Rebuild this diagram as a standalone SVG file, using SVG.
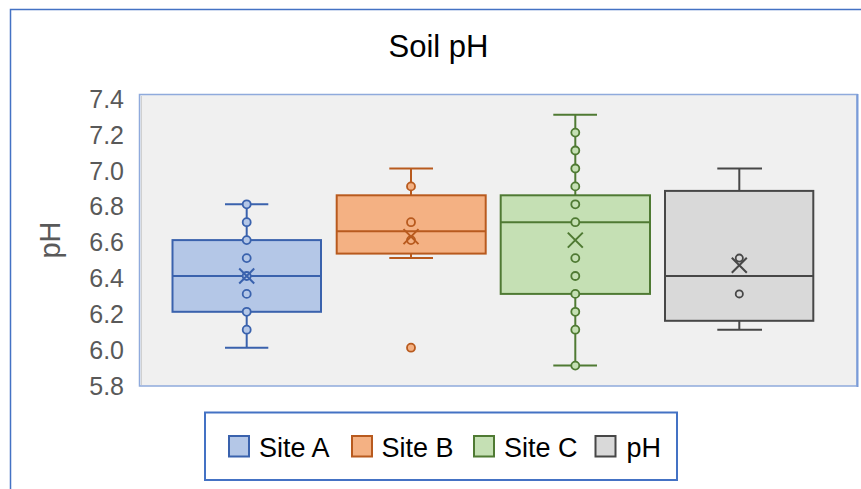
<svg xmlns="http://www.w3.org/2000/svg" width="861" height="489" viewBox="0 0 861 489">
<style>
  text { font-family: "Liberation Sans", Arial, sans-serif; }
  .tick { font-size: 25px; fill: #595959; text-anchor: end; }
  .leg { font-size: 27px; fill: #000; }
  .a { stroke: #3a62ad; }
  .af { fill: #b4c7e7; }
  .b { stroke: #b85a1e; }
  .bf { fill: #f4b183; }
  .c { stroke: #4f7a33; }
  .cf { fill: #c5e0b4; }
  .d { stroke: #474747; }
  .df { fill: #d9d9d9; }
  .ln { stroke-width: 2; fill: none; }
  .pt { stroke-width: 1.8; }
</style>
<rect x="0" y="0" width="861" height="489" fill="#ffffff"/>
<!-- outer chart frame -->
<path d="M10.5 489 V9.5 H861" fill="none" stroke="#4472c4" stroke-width="1.5"/>
<!-- title -->
<text x="438.5" y="57" font-size="31" text-anchor="middle" fill="#000">Soil pH</text>
<!-- plot area -->
<rect x="139.5" y="94.5" width="717.5" height="291.5" fill="#f0f0f0" stroke="#8faadc" stroke-width="1.5"/>
<line x1="141.5" y1="96" x2="141.5" y2="385" stroke="#d0d0d0" stroke-width="1"/>
<line x1="857.5" y1="94" x2="857.5" y2="387" stroke="#7a9bd8" stroke-width="2"/>
<!-- y axis -->
<g id="yaxis">
  <text class="tick" x="124" y="108">7.4</text>
  <text class="tick" x="124" y="143.6">7.2</text>
  <text class="tick" x="124" y="179.5">7.0</text>
  <text class="tick" x="124" y="215.3">6.8</text>
  <text class="tick" x="124" y="251.1">6.6</text>
  <text class="tick" x="124" y="287">6.4</text>
  <text class="tick" x="124" y="322.8">6.2</text>
  <text class="tick" x="124" y="358.7">6.0</text>
  <text class="tick" x="124" y="394.5">5.8</text>
  <text x="60" y="240" font-size="29" fill="#595959" text-anchor="middle" transform="rotate(-90 60 240)">pH</text>
</g>
<!-- Site A -->
<g id="siteA">
  <rect class="a af ln" x="172.5" y="240.1" width="148.5" height="71.7" style="fill:#b4c7e7"/>
  <line class="a ln" x1="172.5" y1="276" x2="321" y2="276"/>
  <line class="a ln" x1="246.7" y1="204.3" x2="246.7" y2="240.1"/>
  <line class="a ln" x1="246.7" y1="311.8" x2="246.7" y2="347.7"/>
  <line class="a ln" x1="225" y1="204.3" x2="268.3" y2="204.3"/>
  <line class="a ln" x1="225" y1="347.7" x2="268.3" y2="347.7"/>
  <g class="a af pt">
    <circle cx="246.7" cy="204.3" r="4"/>
    <circle cx="246.7" cy="222.2" r="4"/>
    <circle cx="246.7" cy="240.1" r="4"/>
    <circle cx="246.7" cy="258.1" r="4"/>
    <circle cx="246.7" cy="276" r="4"/>
    <circle cx="246.7" cy="293.9" r="4"/>
    <circle cx="246.7" cy="311.8" r="4"/>
    <circle cx="246.7" cy="329.7" r="4"/>
  </g>
  <path class="a ln" d="M239.2 268.5 L254.2 283.5 M239.2 283.5 L254.2 268.5"/>
</g>
<!-- Site B -->
<g id="siteB">
  <rect class="b ln" x="336.7" y="195.3" width="149" height="58.3" style="fill:#f4b183"/>
  <line class="b ln" x1="336.7" y1="231.2" x2="485.7" y2="231.2"/>
  <line class="b ln" x1="411" y1="168.5" x2="411" y2="195.3"/>
  <line class="b ln" x1="411" y1="253.6" x2="411" y2="258.1"/>
  <line class="b ln" x1="389.3" y1="168.5" x2="433" y2="168.5"/>
  <line class="b ln" x1="389.3" y1="258.1" x2="433" y2="258.1"/>
  <g class="b bf pt">
    <circle cx="411" cy="186.4" r="4"/>
    <circle cx="411" cy="222.2" r="4"/>
    <circle cx="411" cy="240.1" r="4"/>
    <circle cx="411" cy="347.7" r="4"/>
  </g>
  <path class="b ln" d="M403.5 229.1 L418.5 244.1 M403.5 244.1 L418.5 229.1"/>
</g>
<!-- Site C -->
<g id="siteC">
  <rect class="c ln" x="500.7" y="195.3" width="149.3" height="98.6" style="fill:#c5e0b4"/>
  <line class="c ln" x1="500.7" y1="222.2" x2="650" y2="222.2"/>
  <line class="c ln" x1="575.3" y1="114.7" x2="575.3" y2="195.3"/>
  <line class="c ln" x1="575.3" y1="293.9" x2="575.3" y2="365.6"/>
  <line class="c ln" x1="553.3" y1="114.7" x2="597" y2="114.7"/>
  <line class="c ln" x1="553.3" y1="365.6" x2="597" y2="365.6"/>
  <g class="c cf pt">
    <circle cx="575.3" cy="132.6" r="4"/>
    <circle cx="575.3" cy="150.5" r="4"/>
    <circle cx="575.3" cy="168.5" r="4"/>
    <circle cx="575.3" cy="186.4" r="4"/>
    <circle cx="575.3" cy="204.3" r="4"/>
    <circle cx="575.3" cy="222.2" r="4"/>
    <circle cx="575.3" cy="258.1" r="4"/>
    <circle cx="575.3" cy="276" r="4"/>
    <circle cx="575.3" cy="293.9" r="4"/>
    <circle cx="575.3" cy="311.8" r="4"/>
    <circle cx="575.3" cy="329.7" r="4"/>
    <circle cx="575.3" cy="365.6" r="4"/>
  </g>
  <path class="c ln" d="M567.8 232.6 L582.8 247.6 M567.8 247.6 L582.8 232.6"/>
</g>
<!-- pH -->
<g id="pH">
  <rect class="d ln" x="665" y="190.9" width="148.3" height="129.9" style="fill:#d9d9d9"/>
  <line class="d ln" x1="665" y1="276" x2="813.3" y2="276"/>
  <line class="d ln" x1="739.3" y1="168.5" x2="739.3" y2="190.9"/>
  <line class="d ln" x1="739.3" y1="320.8" x2="739.3" y2="329.7"/>
  <line class="d ln" x1="717.3" y1="168.5" x2="762" y2="168.5"/>
  <line class="d ln" x1="717.3" y1="329.7" x2="762" y2="329.7"/>
  <g class="d df pt">
    <circle cx="739.3" cy="258.1" r="3.6"/>
    <circle cx="739.3" cy="293.9" r="3.6"/>
  </g>
  <path class="d ln" d="M731.8 257.7 L746.8 272.7 M731.8 272.7 L746.8 257.7"/>
</g>
<!-- legend -->
<g id="legend">
  <rect x="205" y="412.5" width="472" height="67.5" fill="#ffffff" stroke="#4472c4" stroke-width="2"/>
  <rect x="229" y="436" width="20" height="20.5" fill="#b4c7e7" stroke="#3a62ad" stroke-width="2"/>
  <text class="leg" x="259" y="457">Site A</text>
  <rect x="352" y="436" width="20" height="20.5" fill="#f4b183" stroke="#b85a1e" stroke-width="2"/>
  <text class="leg" x="381.5" y="457">Site B</text>
  <rect x="474" y="436" width="20" height="20.5" fill="#c5e0b4" stroke="#4f7a33" stroke-width="2"/>
  <text class="leg" x="504" y="457">Site C</text>
  <rect x="595.5" y="436" width="20" height="20.5" fill="#d9d9d9" stroke="#474747" stroke-width="2"/>
  <text class="leg" x="626.5" y="457">pH</text>
</g>
</svg>
